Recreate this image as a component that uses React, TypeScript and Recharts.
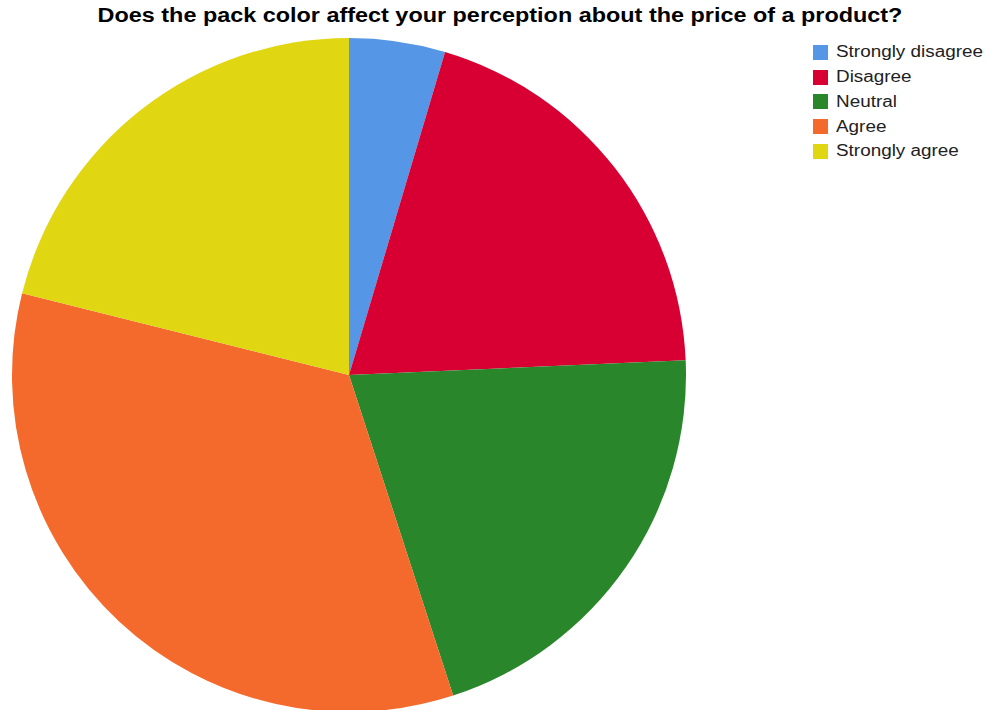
import React from 'react';
import { Cell, Legend, Pie, PieChart } from 'recharts';

const categories = ['Strongly disagree', 'Disagree', 'Neutral', 'Agree', 'Strongly agree'];
const shares = [4.6, 19.7, 20.7, 33.9, 21.1];
const colors = ['#5596e6', '#d80032', '#29862a', '#f46a2c', '#e1d612'];

const title = 'Does the pack color affect your perception about the price of a product?';

const chartData = categories.map((name, i) => ({ name, value: shares[i] }));

// reference text is rendered a bit wider than Arial, so stretch it
function LegendBox() {
  return (
    <div style={{ fontFamily: '"Liberation Sans", Arial, sans-serif', fontSize: 16, color: '#222' }}>
      {categories.map((name, i) => (
        <div key={name} style={{ display: 'flex', alignItems: 'center', height: 24.75 }}>
          <span style={{ width: 15, height: 15, background: colors[i], display: 'inline-block', marginRight: 8, flexShrink: 0 }} />
          <span style={{ display: 'inline-block', transform: 'scaleX(1.18)', transformOrigin: 'left center', whiteSpace: 'nowrap' }}>
            {name}
          </span>
        </div>
      ))}
    </div>
  );
}

export default function App() {
  return (
    <div style={{ position: 'absolute', left: 0, top: 0, width: 987, height: 710, background: '#fff', overflow: 'hidden' }}>
      <div
        style={{
          position: 'absolute',
          left: 0,
          width: 1000,
          top: 4,
          textAlign: 'center',
          fontFamily: '"Liberation Sans", Arial, sans-serif',
          fontWeight: 'bold',
          fontSize: 20,
          color: '#000',
          whiteSpace: 'nowrap',
          transform: 'scaleX(1.17)',
          transformOrigin: '500px center',
        }}
      >
        {title}
      </div>
      <PieChart width={987} height={710} margin={{ top: 0, right: 0, bottom: 0, left: 0 }}>
        <Pie
          data={chartData}
          dataKey="value"
          nameKey="name"
          cx={349}
          cy={375}
          outerRadius={337}
          startAngle={90}
          endAngle={-270}
          stroke="none"
          isAnimationActive={false}
        >
          {chartData.map((d, i) => (
            <Cell key={d.name} fill={colors[i]} />
          ))}
        </Pie>
        <Legend
          layout="vertical"
          content={() => <LegendBox />}
          wrapperStyle={{ position: 'absolute', left: 813, top: 40, width: 174 }}
        />
      </PieChart>
    </div>
  );
}
